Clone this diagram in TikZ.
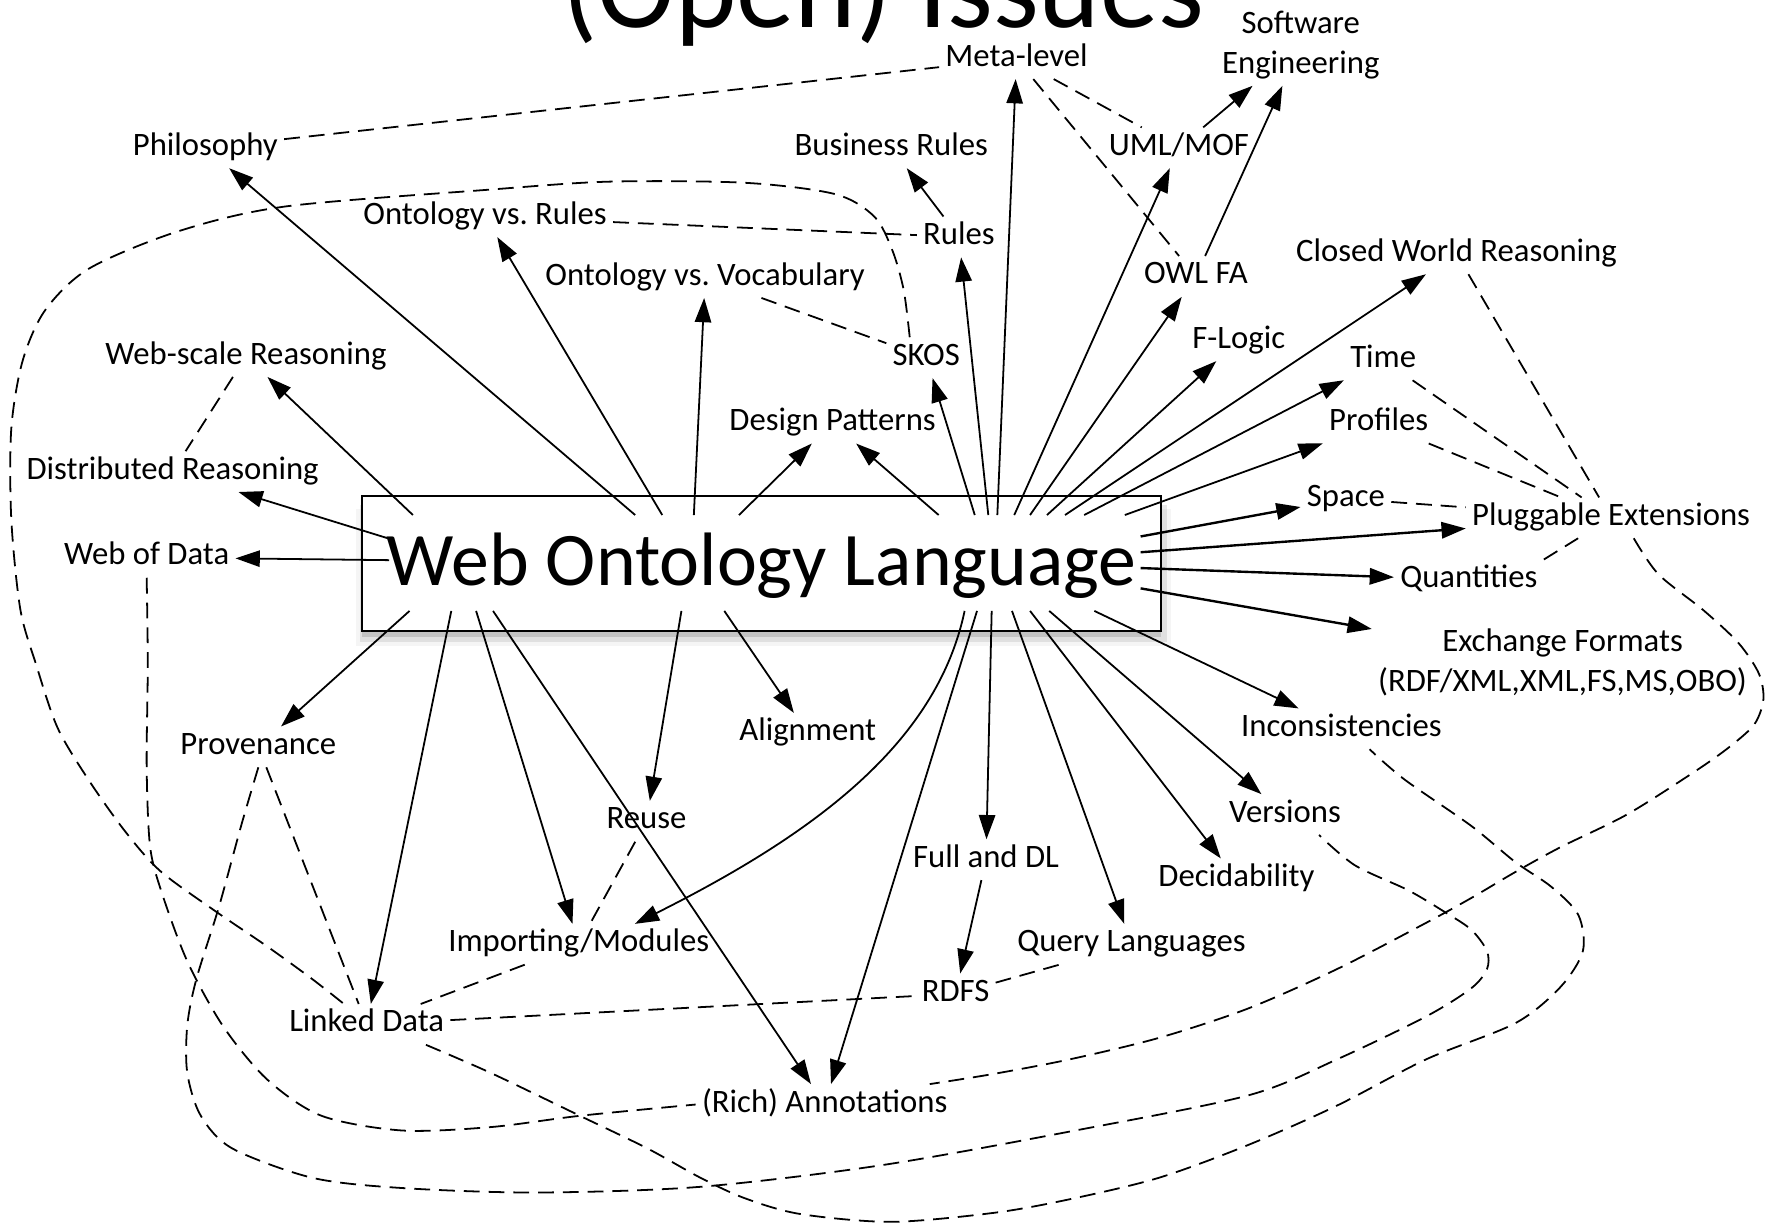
\documentclass[tikz,border=0pt]{standalone}
\usepackage{fontspec}
\setmainfont{Carlito}
\usetikzlibrary{arrows.meta,shadows}

\newcommand{\lblfont}{\fontsize{16.5pt}{20.5pt}\selectfont}

\begin{document}
\begin{tikzpicture}[x=0.02cm, y=-0.02cm,
    lbl/.style={font=\lblfont, inner sep=3pt, text height=10.9pt, text depth=3.3pt},
    lbl2/.style={font=\lblfont, inner sep=3pt, align=center},
    ar/.style={-{Triangle[length=0.43cm,width=0.29cm]}, line width=0.9pt},
    dsh/.style={line width=0.9pt, dash pattern=on 8pt off 4.5pt}]
  \useasboundingbox (0,0) rectangle (1568,1086);

  % title, cut at the top
  \node[font=\fontsize{59pt}{70pt}\selectfont, anchor=base, inner sep=0pt] (title) at (783,24) {(Open) Issues};

  % the box in the middle
  \node[draw, line width=1pt, fill=white, minimum width=14.16cm, minimum height=2.39cm,
        text height=22.3pt, text depth=0pt, font=\fontsize{38.2pt}{44pt}\selectfont,
        drop shadow={shadow xshift=0pt, shadow yshift=-3pt, opacity=.3},
        drop shadow={shadow xshift=1pt, shadow yshift=-5pt, opacity=.18, shadow scale=1.01},
        drop shadow={shadow xshift=1pt, shadow yshift=-7pt, opacity=.08, shadow scale=1.02}]
        (owl) at (675,499.5) {Web Ontology Language};

  % topics
  \node[lbl] (phil) at (182,131) {Philosophy};
  \node[lbl] (meta) at (901,52) {Meta-level};
  \node[lbl2] (softeng) at (1153,40) {Software\\Engineering};
  \node[lbl] (busrules) at (790,131) {Business Rules};
  \node[lbl] (uml) at (1045,131) {UML/MOF};
  \node[lbl] (ovr) at (430,192) {Ontology vs.\ Rules};
  \node[lbl] (rules) at (850,210) {Rules};
  \node[lbl] (ovv) at (625,246) {Ontology vs.\ Vocabulary};
  \node[lbl] (owlfa) at (1060,245) {OWL FA};
  \node[lbl] (cwr) at (1291,225) {Closed World Reasoning};
  \node[lbl] (wsr) at (218,316) {Web-scale Reasoning};
  \node[lbl] (skos) at (821,317) {SKOS};
  \node[lbl] (flogic) at (1098,302) {F-Logic};
  \node[lbl] (time) at (1226,319) {Time};
  \node[lbl] (design) at (738,375) {Design Patterns};
  \node[lbl] (profiles) at (1222,375) {Profiles};
  \node[lbl] (dr) at (153,418) {Distributed Reasoning};
  \node[lbl] (space) at (1193,442) {Space};
  \node[lbl] (plug) at (1428,459) {Pluggable Extensions};
  \node[lbl] (wod) at (130,494) {Web of Data};
  \node[lbl] (quant) at (1302,514) {Quantities};
  \node[lbl2] (exch) at (1385,587) {Exchange Formats\\(RDF/XML,XML,FS,MS,OBO)};
  \node[lbl] (incons) at (1189,646) {Inconsistencies};
  \node[lbl] (prov) at (229,662) {Provenance};
  \node[lbl] (align) at (716,650) {Alignment};
  \node[lbl] (reuse) at (573,728) {Reuse};
  \node[lbl] (versions) at (1139,722) {Versions};
  \node[lbl] (fulldl) at (874,762) {Full and DL};
  \node[lbl] (decid) at (1096,779) {Decidability};
  \node[lbl] (imp) at (513,837) {Importing/Modules};
  \node[lbl] (query) at (1003,837) {Query Languages};
  \node[lbl] (rdfs) at (847,881) {RDFS};
  \node[lbl] (linked) at (325,908) {Linked Data};
  \node[lbl] (annot) at (731,979) {(Rich) Annotations};

  % arrows leaving the top of the box
  \draw[ar] ([shift={(-309,-43)}]owl.center) -- (wsr);
  \draw[ar] ([shift={(-112,-43)}]owl.center) -- (phil);
  \draw[ar] ([shift={(-88,-43)}]owl.center) -- (ovr);
  \draw[ar] ([shift={(-60,-43)}]owl.center) -- (ovv);
  \draw[ar] ([shift={(-20,-43)}]owl.center) -- (design);
  \draw[ar] ([shift={(157,-43)}]owl.center) -- (design);
  \draw[ar] ([shift={(189,-43)}]owl.center) -- (skos);
  \draw[ar] ([shift={(201,-43)}]owl.center) -- (rules);
  \draw[ar] ([shift={(209,-43)}]owl.center) -- (meta);
  \draw[ar] ([shift={(224,-43)}]owl.center) -- (uml);
  \draw[ar] ([shift={(238,-43)}]owl.center) -- (owlfa);
  \draw[ar] ([shift={(253,-43)}]owl.center) -- (flogic);
  \draw[ar] ([shift={(269,-43)}]owl.center) -- (cwr);
  \draw[ar] ([shift={(286,-43)}]owl.center) -- (time);
  \draw[ar] ([shift={(322,-43)}]owl.center) -- (profiles);
  % left and right
  \draw[ar] ([shift={(-330,-22)}]owl.center) -- (dr);
  \draw[ar] ([shift={(-330,-3)}]owl.center) -- (wod);
  \draw[ar, line width=1.2pt] ([shift={(336,-24)}]owl.center) -- (space);
  \draw[ar, line width=1.2pt] ([shift={(336,-10)}]owl.center) -- (plug);
  \draw[ar, line width=1.2pt] ([shift={(336,4)}]owl.center) -- (quant);
  \draw[ar, line width=1.2pt] ([shift={(336,22)}]owl.center) -- (exch);
  % bottom
  \draw[ar] ([shift={(-312,42)}]owl.center) -- (prov);
  \draw[ar] ([shift={(-275,42)}]owl.center) -- (linked);
  \draw[ar] ([shift={(-253,42)}]owl.center) -- (imp);
  \draw[ar] ([shift={(-238,42)}]owl.center) -- (annot);
  \draw[ar] ([shift={(-71,42)}]owl.center) -- (reuse);
  \draw[ar] ([shift={(-33,42)}]owl.center) -- (align);
  \draw[ar] ([shift={(180,42)}]owl.center) .. controls (830,660) and (720,740) .. (imp.20);
  \draw[ar] ([shift={(191,42)}]owl.center) -- (annot);
  \draw[ar] ([shift={(204,42)}]owl.center) -- (fulldl);
  \draw[ar] ([shift={(222,42)}]owl.center) -- (query);
  \draw[ar] ([shift={(238,42)}]owl.center) -- (decid);
  \draw[ar] ([shift={(255,42)}]owl.center) -- (versions);
  \draw[ar] ([shift={(295,42)}]owl.center) -- (incons);
  % second level
  \draw[ar] (rules) -- (busrules);
  \draw[ar] (uml) -- (softeng);
  \draw[ar] (owlfa) -- (softeng);
  \draw[ar] (fulldl) -- (rdfs);

  % dashed relations
  \draw[dsh] (phil) -- (meta);
  \draw[dsh] (ovr) -- (rules);
  \draw[dsh] (ovv) -- (skos);
  \draw[dsh] (meta) -- (uml);
  \draw[dsh] (meta) -- (owlfa);
  \draw[dsh] (wsr) -- (dr);
  \draw[dsh] (prov) -- (linked);
  \draw[dsh] (imp) -- (linked);
  \draw[dsh] (reuse) -- (imp);
  \draw[dsh] (linked) -- (rdfs);
  \draw[dsh] (rdfs) -- (query);
  \draw[dsh] (cwr) -- (plug);
  \draw[dsh] (time) -- (plug);
  \draw[dsh] (profiles) -- (plug);
  \draw[dsh] (space) -- (plug);
  \draw[dsh] (quant.north east) -- (plug);
  % long loops
  \draw[dsh] plot[smooth] coordinates {(skos.129) (801,257) (791,222) (775,192) (740,172) (660,162)
    (540,161) (435,168) (253,183) (158,205) (79,238) (40,275) (20,320) (10,380) (10,460) (18,540)
    (32,589) (51,645) (79,692) (111,737) (142,772) (190,807) (237,839) (277,868) (linked.138)};
  \draw[dsh] plot[smooth] coordinates {(wod.south) (131,589) (130,680) (133,750) (143,790) (166,852)
    (198,910) (237,957) (285,989) (356,1002) (435,999) (514,989) (annot.west)};
  \draw[dsh] plot[smooth] coordinates {(prov.south) (214,731) (194,804) (174,868) (166,909) (166,951)
    (178,989) (206,1018) (277,1044) (356,1053) (475,1057) (620,1052) (780,1033) (948,1003)
    (1106,971) (1185,939) (1264,901) (1304,876) (1318,859) (1318,843) (1304,824) (1280,808)
    (1248,789) (1201,767) (versions.-31)};
  \draw[dsh] plot[smooth] coordinates {(linked.-19) (435,951) (514,989) (574,1018) (621,1044)
    (660,1062) (709,1076) (790,1083) (881,1075) (948,1063) (1027,1044) (1106,1015) (1185,980)
    (1264,939) (1343,907) (1383,875) (1403,843) (1399,811) (1375,786) (1343,764) (1304,732)
    (1245,691) (incons.-36)};
  \draw[dsh] plot[smooth] coordinates {(plug.-42) (1470,509) (1510,541) (1541,570) (1559,597)
    (1563,620) (1555,642) (1533,662) (1502,684) (1442,722) (1383,751) (1343,773) (1304,796)
    (1264,818) (1185,859) (1106,894) (1027,920) (948,939) (880,952) (annot.11)};
\end{tikzpicture}
\end{document}
